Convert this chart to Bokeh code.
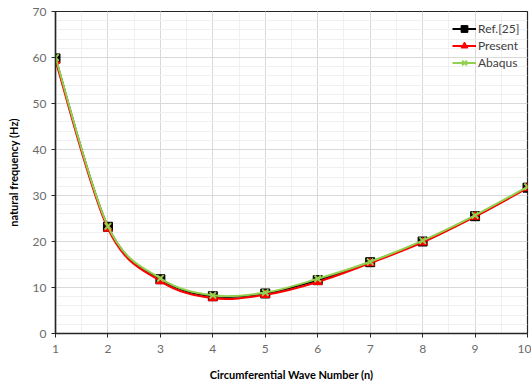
from bokeh.plotting import figure
from bokeh.models import Range1d, FixedTicker, Legend, LegendItem, ColumnDataSource
from bokeh.embed import file_html
from bokeh.resources import INLINE

n = [1, 2, 3, 4, 5, 6, 7, 8, 9, 10]
ref25 = [59.8, 23.2, 11.8, 8.1, 8.7, 11.6, 15.5, 20.0, 25.5, 31.7]
present = [59.3, 22.8, 11.4, 7.7, 8.4, 11.2, 15.3, 19.8, 25.4, 31.6]
abaqus = [60.0, 23.3, 12.0, 8.3, 8.9, 11.9, 15.6, 20.2, 25.7, 31.9]
x_ticks = [1, 2, 3, 4, 5, 6, 7, 8, 9, 10]
y_ticks = [0, 10, 20, 30, 40, 50, 60, 70]

FONT = "Lato"


def smooth_source(xs, ys):
    # Bezier segments (Catmull-Rom style, like spreadsheet "smoothed line")
    k = len(xs)
    d = dict(x0=[], y0=[], x1=[], y1=[], cx0=[], cy0=[], cx1=[], cy1=[])
    for i in range(k - 1):
        xm, ym = (xs[i - 1], ys[i - 1]) if i > 0 else (xs[i], ys[i])
        xp, yp = (xs[i + 2], ys[i + 2]) if i + 2 < k else (xs[i + 1], ys[i + 1])
        d["x0"].append(xs[i]); d["y0"].append(ys[i])
        d["x1"].append(xs[i + 1]); d["y1"].append(ys[i + 1])
        d["cx0"].append(xs[i] + (xs[i + 1] - xm) / 6)
        d["cy0"].append(ys[i] + (ys[i + 1] - ym) / 6)
        d["cx1"].append(xs[i + 1] - (xp - xs[i]) / 6)
        d["cy1"].append(ys[i + 1] - (yp - ys[i]) / 6)
    return ColumnDataSource(d)


p = figure(width=531, height=385, output_backend="svg", toolbar_location=None,
           x_range=Range1d(1, 10), y_range=Range1d(0, 70),
           min_border_left=55, min_border_right=4, min_border_top=11,
           min_border_bottom=52)
p.outline_line_color = "#262626"
p.outline_line_width = 1.2
p.background_fill_color = "white"
p.border_fill_color = "white"

p.xaxis.ticker = FixedTicker(ticks=x_ticks, minor_ticks=[i / 2 for i in range(2, 21)])
p.yaxis.ticker = FixedTicker(ticks=y_ticks, minor_ticks=list(range(0, 71, 2)))
for ax in (p.xaxis[0], p.yaxis[0]):
    ax.axis_line_color = "#262626"
    ax.axis_line_width = 1.5
    ax.major_tick_line_color = "#262626"
    ax.major_tick_out = 4
    ax.major_tick_in = 0
    ax.minor_tick_line_color = None
    ax.major_label_text_font = FONT
    ax.major_label_text_font_size = "12px"
    ax.major_label_text_color = "#6b6b6b"
    ax.axis_label_text_font = FONT
    ax.axis_label_text_font_size = "11px"
    ax.axis_label_text_font_style = "bold"
    ax.axis_label_text_color = "#000000"
p.xaxis.axis_label = "Circumferential Wave Number (n)"
p.yaxis.axis_label = "natural frequency (Hz)"
p.xaxis.major_label_standoff = 7
p.xaxis.axis_label_standoff = 12
p.yaxis.major_label_standoff = 5
p.yaxis.axis_label_standoff = 10

p.xgrid.grid_line_color = "#d9d9d9"
p.ygrid.grid_line_color = "#d9d9d9"
p.xgrid.minor_grid_line_color = "#f0f0f0"
p.ygrid.minor_grid_line_color = "#f0f0f0"

series = [
    (ref25, "black", "square", "Ref.[25]", 9),
    (present, "#ff0000", "triangle", "Present", 9),
    (abaqus, "#92d050", "x", "Abaqus", 9),
]
items = []
for ys, col, mk, lab, sz in series:
    src = smooth_source(n, ys)
    b = p.bezier(x0="x0", y0="y0", x1="x1", y1="y1", cx0="cx0", cy0="cy0",
                 cx1="cx1", cy1="cy1", source=src, line_color=col, line_width=2)
    if mk == "x":
        s = p.scatter(n, ys, marker="x", size=sz, line_color=col, line_width=2)
    else:
        s = p.scatter(n, ys, marker=mk, size=sz, fill_color=col, line_color=col)
    items.append(LegendItem(label=lab, renderers=[b, s]))

legend = Legend(items=items, location=(397, 262), padding=0, margin=0,
                spacing=0, glyph_width=24, glyph_height=17, label_height=17,
                label_standoff=2, border_line_color=None,
                background_fill_alpha=0,
                label_text_font=FONT, label_text_font_size="12px",
                label_text_color="#404040")
p.add_layout(legend, "center")

open("out.html", "w").write(file_html(p, INLINE))
